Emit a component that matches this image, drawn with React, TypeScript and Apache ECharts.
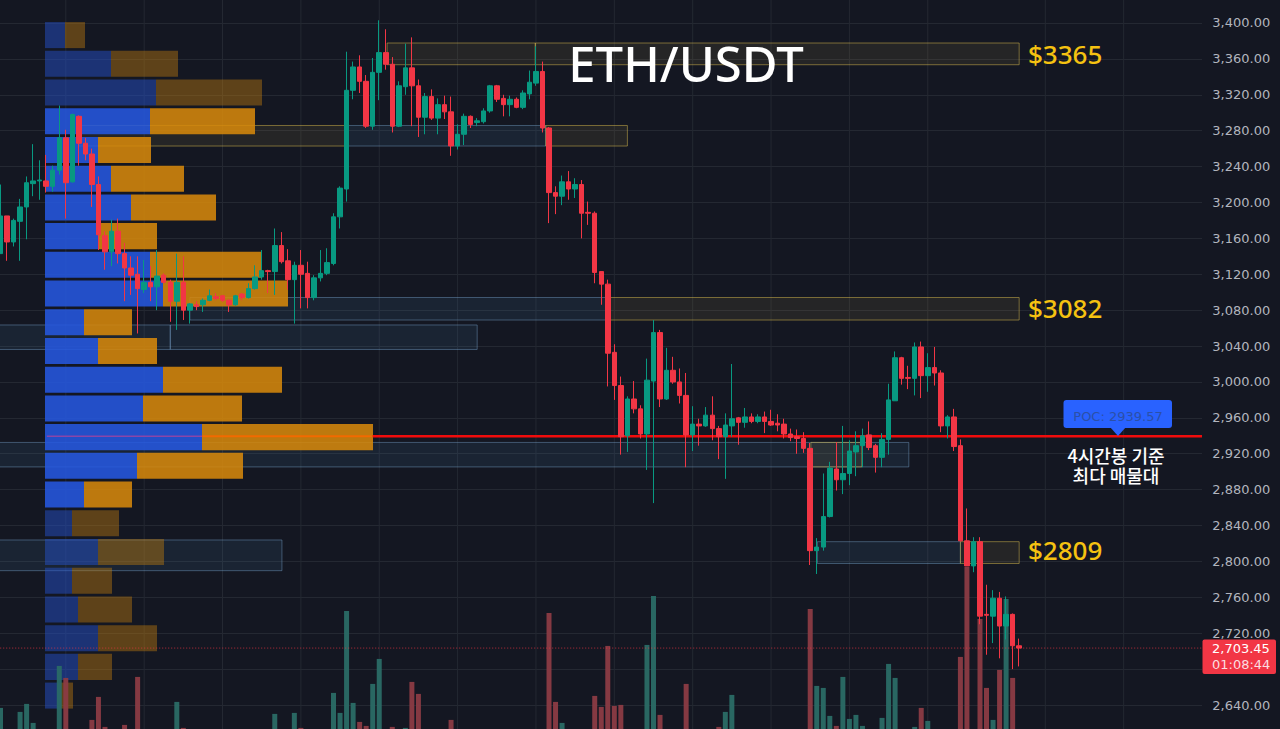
import React, { useEffect, useRef } from 'react';
import * as echarts from 'echarts';

// 4h candles: [open, close, low, high]
const candles: number[][] = [
  [3143,3185,3143,3220],[3185,3156,3135,3185],[3156,3180,3151,3182],[3179,3195,3135,3204],[3195,3222,3159,3229],
  [3221,3224,3207,3265],[3224,3225,3203,3247],[3224,3218,3211,3253],[3218,3236,3212,3241],[3236,3272,3231,3308],
  [3272,3222,3182,3281],[3223,3298,3222,3299],[3296,3266,3241,3297],[3266,3254,3247,3272],[3254,3220,3195,3260],
  [3220,3164,3147,3229],[3163,3145,3125,3168],[3145,3168,3129,3181],[3168,3143,3132,3182],[3143,3127,3090,3155],
  [3127,3119,3097,3140],[3120,3104,3054,3140],[3103,3111,3099,3136],[3111,3106,3090,3129],[3106,3118,3080,3147],
  [3119,3111,3110,3121],[3111,3090,3067,3114],[3090,3111,3058,3143],[3111,3080,3069,3140],[3080,3087,3065,3088],
  [3086,3084,3080,3090],[3086,3091,3078,3093],[3091,3096,3090,3103],[3095,3093,3091,3099],[3096,3091,3089,3097],
  [3091,3086,3078,3092],[3086,3096,3085,3097],[3098,3094,3091,3099],[3094,3104,3093,3110],[3104,3117,3103,3130],
  [3117,3124,3114,3147],[3124,3123,3099,3125],[3123,3152,3097,3171],[3152,3134,3132,3167],[3135,3114,3103,3148],
  [3114,3130,3065,3134],[3130,3120,3082,3147],[3121,3094,3082,3134],[3094,3116,3091,3119],[3116,3121,3112,3147],
  [3121,3133,3119,3149],[3132,3184,3130,3188],[3184,3216,3171,3218],[3215,3325,3201,3368],[3325,3351,3315,3357],
  [3351,3335,3322,3364],[3335,3285,3283,3342],[3285,3345,3281,3361],[3345,3367,3314,3403],[3367,3354,3348,3393],
  [3354,3285,3278,3362],[3285,3330,3284,3335],[3329,3350,3320,3377],[3350,3330,3285,3384],[3330,3295,3273,3337],
  [3295,3318,3276,3322],[3318,3294,3292,3326],[3294,3309,3276,3316],[3309,3301,3293,3319],[3301,3263,3252,3318],
  [3263,3276,3259,3287],[3276,3296,3264,3299],[3296,3287,3283,3297],[3289,3291,3285,3294],[3290,3302,3288,3305],
  [3302,3330,3300,3331],[3330,3315,3312,3331],[3316,3309,3296,3320],[3309,3315,3296,3319],[3315,3306,3305,3317],
  [3306,3322,3304,3325],[3321,3334,3315,3347],[3333,3346,3330,3374],[3346,3283,3278,3357],[3283,3211,3177,3284],
  [3211,3207,3187,3218],[3207,3223,3197,3230],[3223,3215,3203,3235],[3215,3220,3205,3227],[3220,3188,3160,3225],
  [3189,3188,3175,3201],[3188,3122,3110,3190],[3123,3109,3086,3123],[3109,3032,2995,3114],[3033,2996,2980,3042],
  [2996,2939,2919,3006],[2940,2981,2922,2984],[2981,2970,2965,3001],[2970,2942,2937,2974],[2942,3002,2902,3026],
  [3001,3055,2865,3069],[3055,2981,2972,3058],[2981,3013,2980,3038],[3013,3000,2998,3028],[3000,2985,2976,3015],
  [2985,2941,2905,3010],[2941,2953,2923,2973],[2953,2951,2929,2959],[2951,2963,2950,2972],[2963,2948,2935,2984],
  [2948,2939,2914,2951],[2939,2952,2892,2965],[2951,2959,2939,3020],[2960,2955,2930,2961],[2955,2961,2949,2971],
  [2961,2956,2954,2965],[2956,2961,2954,2964],[2961,2956,2943,2967],[2956,2952,2951,2969],[2954,2952,2945,2964],
  [2953,2942,2937,2959],[2942,2938,2934,2948],[2939,2937,2920,2947],[2937,2926,2921,2944],[2926,2812,2796,2932],
  [2812,2816,2786,2826],[2816,2850,2812,2898],[2850,2904,2849,2911],[2903,2891,2879,2933],[2891,2898,2875,2951],
  [2898,2923,2885,2935],[2922,2929,2895,2945],[2929,2940,2905,2948],[2941,2927,2924,2956],[2929,2916,2899,2931],
  [2916,2936,2905,2943],[2936,2980,2919,2998],[2979,3027,2979,3034],[3027,3004,2997,3028],[3005,3004,2992,3018],
  [3004,3039,2985,3044],[3039,3007,2982,3045],[3007,3016,2989,3032],[3016,3010,2996,3039],[3010,2951,2944,3013],
  [2951,2961,2937,2963],[2961,2928,2923,2970],[2929,2823,2822,2936],[2823,2795,2795,2859],[2795,2822,2788,2827],
  [2822,2739,2730,2827],[2741,2740,2696,2774],[2739,2759,2709,2768],[2759,2728,2692,2766],[2728,2741,2713,2761],
  [2741,2706,2680,2742],[2706,2703.45,2683,2714],
];

const volumes = [
  33,5,5,29,37,18,5,5,5,75, 63,5,5,5,21,44,14,5,5,16,
  5,64,5,5,5,5,5,39,13,5, 5,5,5,5,5,5,5,5,5,5,
  5,5,27,5,5,28,13,5,5,5, 5,48,28,130,38,19,15,57,82,5,
  14,5,13,59,47,5,5,5,5,21, 5,5,5,5,5,5,5,5,5,5,
  5,5,5,5,128,39,18,5,5,5, 5,45,34,95,35,36,5,5,5,96,
  145,26,5,5,5,57,5,5,5,5, 14,29,46,5,5,5,5,5,5,5,
  5,5,5,5,132,55,53,25,15,64, 22,26,15,5,5,23,77,63,5,5,
  14,33,20,5,5,5,5,84,174,5, 122,53,21,71,142,63,5,
];

// volume profile rows, top to bottom
const profileTops = [3401,3369,3337,3305,3273,3241,3209,3177,3145,3113,3081,3049,3017,2985,2953,2921,2889,2857,2825,2793,2761,2729,2697,2665];
const profileBuy = [20,66,111,105,53,66,86,53,105,118,39,53,118,98,157,92,39,27,53,27,33,53,33,15];
const profileSell = [20,67,106,105,53,73,85,59,112,125,48,59,119,99,171,106,48,47,66,40,54,59,34,13];
const rowHeight = 29;
const valueAreaFirst = 3;
const valueAreaLast = 16;

// zones: [first bar, last bar, top price, bottom price]
const yellowZones = [
  [59.2,81.9,3377.7,3353.5],[81.9,156,3377.7,3353.5],[12,52.7,3285.8,3262.9],[83.5,96,3285.8,3262.9],
  [93.3,156,3094.1,3069],[124.1,131.9,2932.6,2905.3],[147,156,2822,2797.7],
];
const blueZones = [
  [52.7,83.5,3285.8,3262.9],[29,93.3,3094.1,3069],[-1,26,3063.5,3036.2],[26,73,3063.5,3036.2],
  [-1,139.1,2932.6,2905.3],[125.1,147,2822,2797.7],[-1,43.1,2823.9,2789.7],
];

const gridBars = [10,22,34,46,58,70,82,94,106,118,130,142,160,172];
const hiddenTicks = [2600,2680,3440];
const pocPrice = 2939.57;
const lastPrice = 2703.45;
const countdown = '01:08:44';
const lastBar = 184;

const GREEN = '#089981';
const RED = '#F23645';
const BG = '#141722';
const GRID = '#242832';
const YELLOW_TEXT = '#F5C211';
const SANS = '"Noto Sans", sans-serif';
const KR = '"Noto Sans CJK KR", sans-serif';
const AXIS_FONT = '"DejaVu Sans", sans-serif';

const App: React.FC = () => {
  const chartRef = useRef<HTMLDivElement>(null);

  useEffect(() => {
    document.body.style.margin = '0';
    document.body.style.overflow = 'hidden';
    if (!chartRef.current) return;
    const chart = echarts.init(chartRef.current, undefined, { renderer: 'svg' });

    // 가격 라벨 텍스트
    const zoneLabel = (text: string, y: number) => ({
      type: 'text', z: 100, x: 1028, y,
      style: { text, fill: YELLOW_TEXT, font: `500 26px ${SANS}`, textVerticalAlign: 'middle' },
    });

    const zoneSeries = (zones: number[][], fill: string, stroke: string) => ({
      type: 'custom', xAxisIndex: 1, yAxisIndex: 0, z: 1, silent: true,
      data: zones.map((d, i) => [d[0], d[2], i]),
      renderItem: (params: any, api: any) => {
        const d = zones[params.dataIndex];
        const a = api.coord([d[0], d[2]]);
        const b = api.coord([d[1], d[3]]);
        return {
          type: 'rect',
          shape: { x: a[0], y: a[1], width: b[0] - a[0], height: b[1] - a[1] },
          style: { fill, stroke, lineWidth: 1 },
        };
      },
    });

    const hLine = (from: number, to: number, price: number, stroke: string, width: number, z: number, dash?: number[]) => ({
      type: 'custom', xAxisIndex: 1, yAxisIndex: 0, z, silent: true,
      data: [[from, price]],
      renderItem: (_: any, api: any) => {
        const a = api.coord([from, price]);
        const b = api.coord([to, price]);
        return {
          type: 'line',
          shape: { x1: a[0], y1: a[1], x2: b[0], y2: b[1] },
          style: { stroke, lineWidth: width, lineDash: dash },
        };
      },
    });

    chart.setOption({
      animation: false,
      backgroundColor: BG,
      grid: { left: -2.77, top: -12.9, width: 1208.05, height: 753.8, outerBoundsMode: 'none' },
      xAxis: [
        { type: 'category', show: false, data: Array.from({ length: lastBar + 1 }, (_, i) => String(i)) },
        { type: 'value', show: false, min: -0.5, max: lastBar + 0.5, splitLine: { show: false } },
        { type: 'value', show: false, min: -47.77, max: 1160.28, splitLine: { show: false } },
      ],
      yAxis: [
        {
          type: 'value', position: 'right', min: 2600, max: 3440, interval: 40,
          axisLine: { show: false }, axisTick: { show: false },
          axisLabel: {
            margin: 7, color: '#B2B5BE', fontSize: 13, fontFamily: AXIS_FONT,
            formatter: (v: number) => hiddenTicks.includes(v) ? '' : v.toLocaleString('en-US', { minimumFractionDigits: 2 }),
          },
          splitLine: { lineStyle: { color: GRID, width: 1 } },
        },
        { type: 'value', show: false, min: 0, max: 754, splitLine: { show: false } },
      ],
      series: [
        {
          // 세로 그리드
          type: 'custom', xAxisIndex: 1, yAxisIndex: 0, z: 0, silent: true,
          data: gridBars.map((b) => [b, 3000]),
          renderItem: (params: any, api: any) => {
            const b = gridBars[params.dataIndex];
            const a = api.coord([b, 3440]);
            const c = api.coord([b, 2600]);
            return { type: 'line', shape: { x1: a[0], y1: a[1], x2: c[0], y2: c[1] }, style: { stroke: GRID, lineWidth: 1 } };
          },
        },
        zoneSeries(blueZones, 'rgba(70,130,180,0.12)', 'rgba(125,170,210,0.42)'),
        zoneSeries(yellowZones, 'rgba(245,210,90,0.08)', 'rgba(225,195,80,0.48)'),
        {
          // 매물대
          type: 'custom', xAxisIndex: 2, yAxisIndex: 0, z: 2, silent: true,
          data: profileTops.map((p, i) => [profileBuy[i], p]),
          renderItem: (params: any, api: any) => {
            const i = params.dataIndex;
            const bright = i >= valueAreaFirst && i <= valueAreaLast;
            const a = api.coord([0, profileTops[i]]);
            const b = api.coord([profileBuy[i], profileTops[i] - rowHeight]);
            const c = api.coord([profileBuy[i] + profileSell[i], profileTops[i] - rowHeight]);
            return {
              type: 'group',
              children: [
                { type: 'rect', shape: { x: a[0], y: a[1], width: b[0] - a[0], height: b[1] - a[1] }, style: { fill: bright ? 'rgba(38,88,223,0.88)' : 'rgba(36,80,200,0.5)' } },
                { type: 'rect', shape: { x: b[0], y: a[1], width: c[0] - b[0], height: b[1] - a[1] }, style: { fill: bright ? 'rgba(213,135,11,0.88)' : 'rgba(190,122,14,0.44)' } },
              ],
            };
          },
        },
        {
          type: 'bar', xAxisIndex: 0, yAxisIndex: 1, barWidth: 5, z: 3, silent: true,
          data: volumes.map((v, i) => ({
            value: v,
            itemStyle: { color: candles[i][1] >= candles[i][0] ? '#2A6C66' : '#8B3B44', opacity: 0.95 },
          })),
        },
        hLine(-0.5, lastBar, lastPrice, 'rgba(242,54,69,0.75)', 1, 4, [1, 2]),
        hLine(7.1, 30.9, pocPrice, '#8A45A8', 1.5, 4),
        hLine(30.9, 57, pocPrice, '#F26A00', 2, 4),
        hLine(57, lastBar, pocPrice, '#F00C0C', 2.5, 4),
        {
          type: 'candlestick', xAxisIndex: 0, yAxisIndex: 0, barWidth: 5, z: 5, silent: true,
          data: candles,
          itemStyle: { color: GREEN, color0: RED, borderColor: GREEN, borderColor0: RED, borderWidth: 1 },
        },
      ],
      graphic: [
        { type: 'rect', z: 90, shape: { x: 1202, y: 0, width: 4, height: 729 }, style: { fill: BG } },
        { type: 'text', z: 100, x: 686, y: 63, style: { text: 'ETH/USDT', fill: '#FFFFFF', font: `500 49px ${SANS}`, textAlign: 'center', textVerticalAlign: 'middle' } },
        zoneLabel('$3365', 54),
        zoneLabel('$3082', 308),
        zoneLabel('$2809', 550),
        { type: 'rect', z: 100, shape: { x: 1063.5, y: 400, width: 108.5, height: 28, r: 3 }, style: { fill: '#2962FF' } },
        { type: 'polygon', z: 100, shape: { points: [[1110, 427], [1126, 427], [1118, 436]] }, style: { fill: '#2962FF' } },
        { type: 'text', z: 101, x: 1118, y: 416, style: { text: 'POC: 2939.57', fill: '#2B50A8', font: `500 13px ${AXIS_FONT}`, textAlign: 'center', textVerticalAlign: 'middle' } },
        { type: 'text', z: 100, x: 1116, y: 465, style: { text: '4시간봉 기준\n최다 매물대', fill: '#FFFFFF', font: `500 18px ${KR}`, lineHeight: 20, textAlign: 'center', textVerticalAlign: 'middle' } },
        { type: 'rect', z: 100, shape: { x: 1202.5, y: 639.5, width: 73.5, height: 34.5, r: 2 }, style: { fill: RED } },
        { type: 'text', z: 101, x: 1212, y: 648, style: { text: lastPrice.toFixed(2).replace('2703', '2,703'), fill: '#FFFFFF', font: `13px ${AXIS_FONT}`, textVerticalAlign: 'middle' } },
        { type: 'text', z: 101, x: 1212, y: 664, style: { text: countdown, fill: '#FBDDE0', font: `13px ${AXIS_FONT}`, textVerticalAlign: 'middle' } },
      ],
    });

    return () => {
      chart.dispose();
    };
  }, []);

  return <div ref={chartRef} style={{ position: 'absolute', left: 0, top: 0, width: 1280, height: 729 }} />;
};

export default App;
